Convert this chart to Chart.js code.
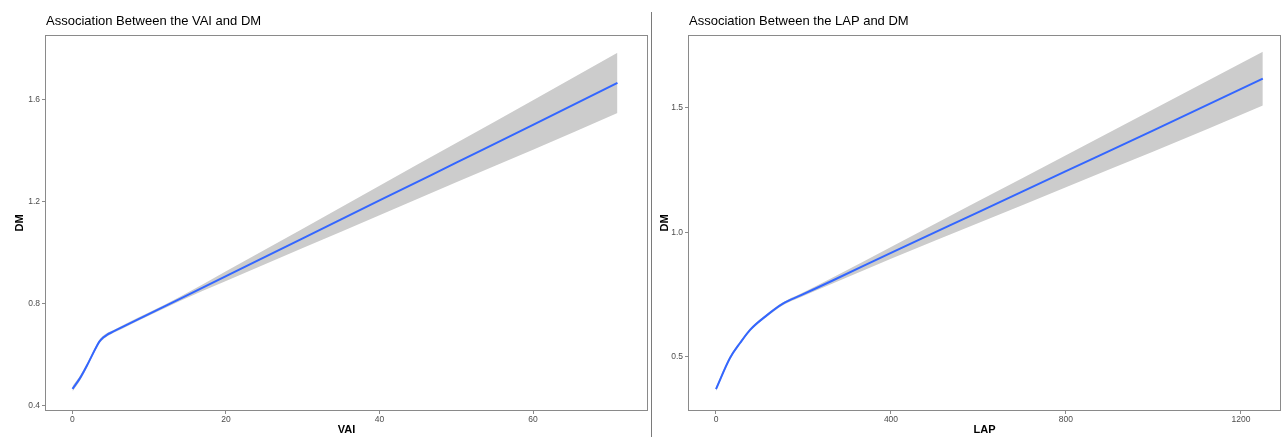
<!DOCTYPE html>
<html>
<head>
<meta charset="utf-8">
<script src="https://cdn.jsdelivr.net/npm/chart.js@4/dist/chart.umd.min.js"></script>
<style>
  body { margin: 0; background: #fff; }
  #wrap { position: relative; width: 1283px; height: 437px; }
  #leftChart { position: absolute; left: 0; top: 0; }
  #rightChart { position: absolute; left: 653px; top: 0; }
  #sep { position: absolute; left: 651px; top: 12px; width: 1px; height: 425px; background: #7a7a7a; }
</style>
</head>
<body>
<div id="wrap">
  <canvas id="leftChart" width="650" height="437"></canvas>
  <div id="sep"></div>
  <canvas id="rightChart" width="630" height="437"></canvas>
</div>
<script>
// VAI panel
const vaiX = [0, 1, 2, 3, 3.5, 4, 4.5, 5, 6, 7, 10, 14, 20, 30, 40, 50, 60, 71];
const vaiFit = [0.467, 0.51, 0.565, 0.625, 0.652, 0.668, 0.679, 0.687, 0.702, 0.717, 0.761, 0.820, 0.909, 1.057, 1.206, 1.354, 1.502, 1.667];
const vaiUpper = [0.477, 0.519, 0.573, 0.632, 0.659, 0.675, 0.686, 0.693, 0.708, 0.723, 0.767, 0.828, 0.928, 1.095, 1.264, 1.431, 1.599, 1.785];
const vaiLower = [0.457, 0.501, 0.557, 0.618, 0.645, 0.661, 0.672, 0.681, 0.696, 0.711, 0.755, 0.812, 0.890, 1.019, 1.148, 1.277, 1.405, 1.549];
const vaiXTicks = [0, 20, 40, 60];
const vaiYTicks = [0.4, 0.8, 1.2, 1.6];

// LAP panel
const lapX = [0, 32, 55, 78, 116, 153, 192, 268, 400, 600, 800, 1000, 1250];
const lapFit = [0.371, 0.496, 0.556, 0.609, 0.667, 0.714, 0.746, 0.808, 0.918, 1.082, 1.246, 1.410, 1.618];
const lapUpper = [0.379, 0.503, 0.562, 0.615, 0.673, 0.720, 0.753, 0.820, 0.942, 1.126, 1.310, 1.495, 1.726];
const lapLower = [0.363, 0.489, 0.550, 0.603, 0.661, 0.708, 0.739, 0.796, 0.894, 1.038, 1.182, 1.325, 1.510];
const lapXTicks = [0, 400, 800, 1200];
const lapYTicks = [0.5, 1.0, 1.5];

const FONT = "'Liberation Sans', Arial, sans-serif";

// grey box round the plot area
const boxPlugin = {
  id: 'box',
  afterDraw(chart) {
    const { ctx, chartArea: a } = chart;
    ctx.save();
    ctx.strokeStyle = '#8a8a8a';
    ctx.lineWidth = 1;
    ctx.strokeRect(Math.round(a.left) - 0.5, Math.round(a.top) - 0.5, Math.round(a.right - a.left) + 1, Math.round(a.bottom - a.top) + 1);
    ctx.restore();
  }
};

const toPts = (xs, ys) => xs.map((x, i) => ({ x: x, y: ys[i] }));

function drawPanel(id, p) {
  const ctx = document.getElementById(id).getContext('2d');
  return new Chart(ctx, {
    type: 'line',
    data: {
      datasets: [{
        data: toPts(p.x, p.fit),
        borderColor: '#3366FF',
        borderWidth: 2,
        pointRadius: 0,
        cubicInterpolationMode: 'monotone',
        fill: false
      }, {
        data: toPts(p.x, p.upper),
        borderWidth: 0,
        borderColor: 'rgba(0,0,0,0)',
        pointRadius: 0,
        cubicInterpolationMode: 'monotone',
        fill: false
      }, {
        data: toPts(p.x, p.lower),
        borderWidth: 0,
        borderColor: 'rgba(0,0,0,0)',
        backgroundColor: '#cccccc',
        pointRadius: 0,
        cubicInterpolationMode: 'monotone',
        fill: '-1'
      }]
    },
    options: {
      responsive: false,
      animation: false,
      devicePixelRatio: 1,
      layout: { padding: { left: 0, right: 3, top: 0, bottom: 0 } },
      plugins: {
        legend: { display: false },
        tooltip: { enabled: false },
        title: {
          display: true,
          text: p.title,
          align: 'start',
          fullSize: false,
          color: '#000',
          font: { family: FONT, size: 13, weight: 'normal' },
          padding: { top: 14, bottom: 6.4 }
        }
      },
      scales: {
        x: {
          type: 'linear',
          min: p.xMin,
          max: p.xMax,
          afterFit: s => { s.height = 27; },
          afterBuildTicks: s => { s.ticks = p.xTicks.map(v => ({ value: v })); },
          grid: { drawOnChartArea: false, drawTicks: true, tickLength: 4, color: '#8a8a8a' },
          border: { display: false },
          ticks: { color: '#4d4d4d', font: { family: FONT, size: 8.5 }, padding: 1, maxRotation: 0, callback: v => String(v) },
          title: { display: true, text: p.xTitle, color: '#000', font: { family: FONT, size: 11, weight: 'bold' }, padding: { top: 0, bottom: 0 } }
        },
        y: {
          type: 'linear',
          min: p.yMin,
          max: p.yMax,
          afterFit: s => { s.width = p.yWidth; },
          afterBuildTicks: s => { s.ticks = p.yTicks.map(v => ({ value: v })); },
          grid: { drawOnChartArea: false, drawTicks: true, tickLength: 4, color: '#8a8a8a' },
          border: { display: false },
          ticks: { color: '#4d4d4d', font: { family: FONT, size: 8.5 }, padding: 2, callback: v => v.toFixed(1) },
          title: { display: true, text: 'DM', color: '#000', font: { family: FONT, size: 11, weight: 'bold' }, padding: { top: p.yTitlePad, bottom: 0 } }
        }
      }
    },
    plugins: [boxPlugin]
  });
}

drawPanel('leftChart', {
  title: 'Association Between the VAI and DM',
  xTitle: 'VAI',
  x: vaiX, fit: vaiFit, upper: vaiUpper, lower: vaiLower,
  xTicks: vaiXTicks, yTicks: vaiYTicks,
  xMin: -3.45, xMax: 74.85, yMin: 0.384, yMax: 1.851,
  yWidth: 46, yTitlePad: 13
});

drawPanel('rightChart', {
  title: 'Association Between the LAP and DM',
  xTitle: 'LAP',
  x: lapX, fit: lapFit, upper: lapUpper, lower: lapLower,
  xTicks: lapXTicks, yTicks: lapYTicks,
  xMin: -61.7, xMax: 1289.3, yMin: 0.287, yMax: 1.789,
  yWidth: 36, yTitlePad: 5
});
</script>
</body>
</html>
